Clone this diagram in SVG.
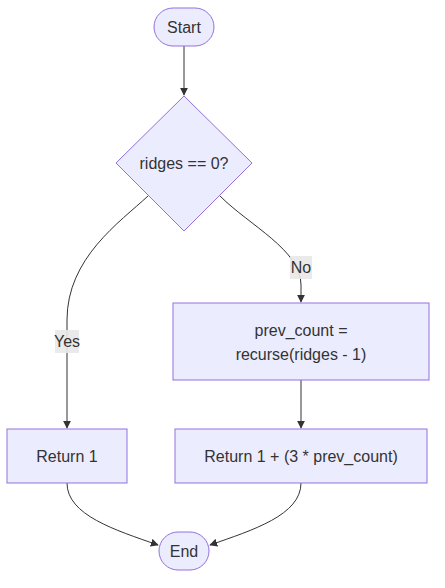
<svg xmlns="http://www.w3.org/2000/svg" width="445" height="588" viewBox="0 0 445 588">
<style>
.node{fill:#ECECFF;stroke:#9370DB;stroke-width:1}
.t{font-family:"Liberation Sans",Arial,sans-serif;font-size:16px;fill:#333;text-anchor:middle;dominant-baseline:central}
.e{fill:none;stroke:#333;stroke-width:1}
.lb{fill:#e8e8e8;opacity:0.9}
</style>
<defs>
<marker id="arr" viewBox="0 0 10 10" refX="9" refY="5" markerWidth="8" markerHeight="8" markerUnits="userSpaceOnUse" orient="auto">
<path d="M0,0 L10,5 L0,10 z" fill="#333"/>
</marker>
</defs>
<rect width="445" height="588" fill="#fff"/>
<g id="edges">
<path class="e" d="M184,46 L184,95" marker-end="url(#arr)"/>
<path class="e" d="M148,196 C120,222 67,258 67,320 L67,428" marker-end="url(#arr)"/>
<path class="e" d="M220,196 C250,226 301,250 301,285 L301,302" marker-end="url(#arr)"/>
<path class="e" d="M301,380 L301,428" marker-end="url(#arr)"/>
<path class="e" d="M67,483 C67,515 115,530 158,545" marker-end="url(#arr)"/>
<path class="e" d="M301,483 C301,515 253,530 210,545" marker-end="url(#arr)"/>
<g id="label-yes"><rect class="lb" x="55" y="330" width="24" height="23"/><text class="t" x="67" y="341">Yes</text></g>
<g id="label-no"><rect class="lb" x="290" y="256" width="22" height="23"/><text class="t" x="301" y="267">No</text></g>
</g>
<g id="start"><rect class="node" x="154" y="8" width="60" height="38" rx="19"/><text class="t" x="184" y="27">Start</text></g>
<g id="decision"><polygon class="node" points="184,96 252,163 184,231 116,163"/><text class="t" x="184" y="163">ridges == 0?</text></g>
<g id="recurse"><rect class="node" x="173" y="303" width="256" height="77"/><text class="t" x="301" y="330">prev_count =</text><text class="t" x="301" y="354">recurse(ridges - 1)</text></g>
<g id="return1"><rect class="node" x="7" y="429" width="120" height="54"/><text class="t" x="67" y="456">Return 1</text></g>
<g id="return2"><rect class="node" x="175" y="429" width="252" height="54"/><text class="t" x="301" y="456">Return 1 + (3 * prev_count)</text></g>
<g id="end"><rect class="node" x="159" y="532" width="50" height="38" rx="19"/><text class="t" x="184" y="551">End</text></g>
</svg>
